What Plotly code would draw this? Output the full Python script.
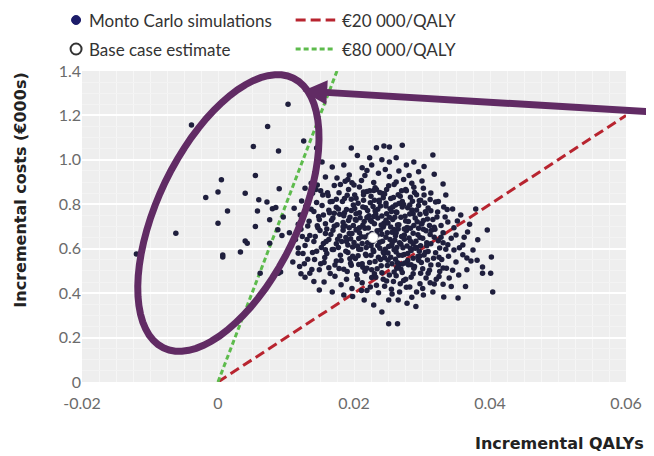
import math
import plotly.graph_objects as go

# ---------------- data ----------------
# Monte Carlo simulations: incremental QALYs (x) and incremental costs in €000s (y)
sparse_left = [(-0.0120, 0.576), (-0.0062, 0.67), (-0.0039, 1.157), (-0.0018, 0.83), (0.0, 0.855),
               (0.0005, 0.91), (0.0014, 0.77), (0.0, 0.715), (0.0007, 0.572), (0.0007, 0.563),
               (0.0033, 0.585), (0.0040, 0.635), (0.0043, 0.625), (0.0040, 0.85), (0.0055, 0.70),
               (0.0055, 0.93), (0.0052, 1.06), (0.0058, 0.77), (0.0060, 0.82), (0.0073, 1.15),
               (0.0089, 1.04), (0.0090, 0.87), (0.0103, 1.25), (0.0126, 1.085), (0.0076, 0.73),
               (0.0072, 0.81), (0.0080, 0.78), (0.0085, 0.785), (0.0076, 0.625), (0.0062, 0.49),
               (0.0089, 0.49), (0.0088, 0.685), (0.0096, 0.743), (0.0094, 0.66)]
band_top = [(0.0145, 1.053), (0.0196, 1.053), (0.0233, 1.055), (0.0244, 1.062), (0.0252, 1.058),
            (0.0271, 1.066), (0.0316, 1.022), (0.0223, 1.009), (0.0226, 0.977), (0.0241, 1.0),
            (0.0252, 0.99), (0.0277, 0.977), (0.0295, 0.946), (0.0153, 0.99), (0.0168, 0.968),
            (0.0185, 0.977), (0.0158, 0.923), (0.0175, 0.918), (0.0193, 0.932), (0.0146, 0.887),
            (0.0200, 0.887), (0.0212, 0.965), (0.0262, 1.01), (0.0288, 0.99), (0.0205, 1.02),
            (0.0303, 0.97), (0.0266, 0.95), (0.0236, 0.94), (0.0216, 0.93), (0.0252, 0.925),
            (0.0281, 0.93), (0.0318, 0.935), (0.0331, 0.891)]
band_080 = [(0.0128, 0.872), (0.0139, 0.85), (0.0151, 0.861), (0.0162, 0.84), (0.0171, 0.885),
            (0.0178, 0.852), (0.0186, 0.826), (0.0192, 0.866), (0.0201, 0.842), (0.0208, 0.878),
            (0.0214, 0.818), (0.0219, 0.857), (0.0225, 0.836), (0.0231, 0.874), (0.0237, 0.81),
            (0.0242, 0.848), (0.0248, 0.867), (0.0254, 0.826), (0.0259, 0.889), (0.0265, 0.843),
            (0.0271, 0.812), (0.0276, 0.866), (0.0283, 0.832), (0.0289, 0.853), (0.0296, 0.816),
            (0.0302, 0.872), (0.0335, 0.842), (0.0313, 0.851), (0.0320, 0.81), (0.0123, 0.815),
            (0.0145, 0.808), (0.0168, 0.812), (0.0197, 0.897), (0.0229, 0.898), (0.0262, 0.90),
            (0.0285, 0.895), (0.0247, 0.805), (0.0206, 0.805), (0.0137, 0.895)]
band_070 = [(0.0112, 0.782), (0.0121, 0.752), (0.0129, 0.79), (0.0134, 0.724), (0.0141, 0.768),
            (0.0148, 0.745), (0.0153, 0.795), (0.0158, 0.712), (0.0163, 0.773), (0.0169, 0.738),
            (0.0174, 0.787), (0.0179, 0.755), (0.0184, 0.718), (0.0189, 0.776), (0.0194, 0.742),
            (0.0199, 0.797), (0.0203, 0.728), (0.0208, 0.762), (0.0213, 0.706), (0.0217, 0.784),
            (0.0222, 0.748), (0.0226, 0.722), (0.0231, 0.771), (0.0235, 0.738), (0.0239, 0.792),
            (0.0244, 0.715), (0.0248, 0.757), (0.0253, 0.78), (0.0257, 0.732), (0.0262, 0.765),
            (0.0266, 0.708), (0.0271, 0.788), (0.0275, 0.746), (0.0280, 0.722), (0.0285, 0.774),
            (0.0290, 0.738), (0.0295, 0.795), (0.0300, 0.714), (0.0306, 0.758), (0.0309, 0.783),
            (0.0316, 0.731), (0.0323, 0.765), (0.0332, 0.788), (0.0345, 0.779), (0.0357, 0.752),
            (0.0379, 0.779), (0.0338, 0.72), (0.0118, 0.71), (0.0146, 0.703), (0.0187, 0.702),
            (0.0228, 0.79), (0.0261, 0.797), (0.0297, 0.755), (0.0328, 0.705), (0.0171, 0.76)]
band_060 = [(0.0105, 0.672), (0.0114, 0.641), (0.0122, 0.688), (0.0128, 0.615), (0.0135, 0.659),
            (0.0141, 0.632), (0.0147, 0.694), (0.0152, 0.606), (0.0158, 0.668), (0.0163, 0.641),
            (0.0169, 0.683), (0.0174, 0.622), (0.0179, 0.657), (0.0184, 0.699), (0.0189, 0.632),
            (0.0193, 0.668), (0.0198, 0.608), (0.0203, 0.684), (0.0207, 0.646), (0.0212, 0.624),
            (0.0216, 0.692), (0.0221, 0.661), (0.0225, 0.613), (0.0234, 0.681), (0.0238, 0.629),
            (0.0243, 0.698), (0.0247, 0.652), (0.0251, 0.61), (0.0256, 0.674), (0.0260, 0.638),
            (0.0265, 0.689), (0.0269, 0.62), (0.0274, 0.662), (0.0278, 0.696), (0.0283, 0.634),
            (0.0287, 0.67), (0.0292, 0.606), (0.0297, 0.651), (0.0302, 0.688), (0.0307, 0.627),
            (0.0312, 0.664), (0.0318, 0.697), (0.0324, 0.636), (0.0331, 0.672), (0.0338, 0.618),
            (0.0350, 0.662), (0.0367, 0.675), (0.0360, 0.617), (0.0396, 0.684), (0.0347, 0.694),
            (0.0118, 0.603), (0.0155, 0.624), (0.0195, 0.645), (0.0231, 0.64), (0.0263, 0.605),
            (0.0295, 0.692), (0.0326, 0.603), (0.0382, 0.64), (0.0208, 0.672), (0.0241, 0.665)]
band_050 = [(0.0110, 0.54), (0.0120, 0.52), (0.0125, 0.578), (0.0132, 0.553), (0.0138, 0.506),
            (0.0145, 0.589), (0.0151, 0.532), (0.0157, 0.561), (0.0163, 0.514), (0.0168, 0.596),
            (0.0174, 0.545), (0.0180, 0.571), (0.0185, 0.508), (0.0191, 0.583), (0.0196, 0.526),
            (0.0202, 0.556), (0.0207, 0.598), (0.0213, 0.517), (0.0218, 0.569), (0.0223, 0.538),
            (0.0229, 0.587), (0.0234, 0.51), (0.0239, 0.552), (0.0244, 0.579), (0.0249, 0.524),
            (0.0254, 0.562), (0.0259, 0.595), (0.0264, 0.537), (0.0269, 0.508), (0.0274, 0.574),
            (0.0279, 0.547), (0.0284, 0.592), (0.0289, 0.52), (0.0294, 0.565), (0.0299, 0.538),
            (0.0305, 0.584), (0.0311, 0.503), (0.0317, 0.557), (0.0324, 0.528), (0.0331, 0.513),
            (0.0347, 0.594), (0.0375, 0.594), (0.0372, 0.545), (0.0350, 0.54), (0.0389, 0.518),
            (0.0402, 0.563), (0.0360, 0.573), (0.0339, 0.566), (0.0092, 0.495), (0.0118, 0.58),
            (0.0158, 0.595), (0.0226, 0.505), (0.0262, 0.585), (0.0301, 0.51), (0.0194, 0.555)]
band_040 = [(0.0122, 0.487), (0.0128, 0.472), (0.0135, 0.49), (0.0149, 0.414), (0.0156, 0.45),
            (0.0168, 0.405), (0.0172, 0.476), (0.0181, 0.438), (0.0189, 0.462), (0.0197, 0.421),
            (0.0204, 0.483), (0.0212, 0.447), (0.0219, 0.412), (0.0226, 0.47), (0.0233, 0.435),
            (0.0241, 0.492), (0.0248, 0.455), (0.0255, 0.418), (0.0262, 0.478), (0.0268, 0.442),
            (0.0276, 0.463), (0.0282, 0.428), (0.0292, 0.405), (0.0267, 0.405), (0.0306, 0.468),
            (0.0316, 0.405), (0.0340, 0.468), (0.0354, 0.482), (0.0331, 0.44), (0.0401, 0.49),
            (0.0389, 0.49), (0.0404, 0.405), (0.0298, 0.49), (0.0236, 0.402), (0.0364, 0.43),
            (0.0258, 0.452), (0.0271, 0.493), (0.0284, 0.471), (0.0297, 0.442), (0.0309, 0.489),
            (0.0321, 0.462), (0.0252, 0.482), (0.0243, 0.462), (0.0277, 0.427), (0.0301, 0.421),
            (0.0318, 0.441), (0.0230, 0.487), (0.0216, 0.498)]
band_low = [(0.0332, 0.383), (0.0353, 0.378), (0.0302, 0.392), (0.0265, 0.369), (0.0251, 0.369),
            (0.0229, 0.347), (0.0215, 0.369), (0.0241, 0.315), (0.0251, 0.262), (0.0264, 0.262),
            (0.0198, 0.385), (0.0278, 0.355), (0.0185, 0.392), (0.0291, 0.34)]
core_dense = [(0.0171, 0.701), (0.0176, 0.643), (0.0183, 0.812), (0.0188, 0.589), (0.0192, 0.727),
              (0.0197, 0.668), (0.0201, 0.781), (0.0205, 0.612), (0.0209, 0.739), (0.0214, 0.855),
              (0.0217, 0.575), (0.0221, 0.693), (0.0224, 0.807), (0.0227, 0.631), (0.0232, 0.756),
              (0.0236, 0.562), (0.0239, 0.684), (0.0243, 0.829), (0.0246, 0.598), (0.0250, 0.716),
              (0.0253, 0.641), (0.0257, 0.788), (0.0261, 0.553), (0.0264, 0.707), (0.0268, 0.836),
              (0.0272, 0.604), (0.0276, 0.725), (0.0279, 0.579), (0.0283, 0.692), (0.0287, 0.757),
              (0.0291, 0.634), (0.0295, 0.548), (0.0299, 0.711), (0.0304, 0.806), (0.0309, 0.587),
              (0.0314, 0.683), (0.0186, 0.762), (0.0195, 0.535), (0.0203, 0.827), (0.0211, 0.654),
              (0.0219, 0.741), (0.0228, 0.594), (0.0233, 0.866), (0.0241, 0.747), (0.0249, 0.672),
              (0.0256, 0.532), (0.0263, 0.763), (0.0270, 0.655), (0.0277, 0.861), (0.0284, 0.528),
              (0.0292, 0.774), (0.0301, 0.647), (0.0308, 0.734), (0.0177, 0.606), (0.0184, 0.683),
              (0.0190, 0.841), (0.0199, 0.705), (0.0206, 0.568), (0.0213, 0.788), (0.0220, 0.627),
              (0.0230, 0.712), (0.0237, 0.818), (0.0245, 0.559), (0.0252, 0.742), (0.0259, 0.687),
              (0.0266, 0.571), (0.0273, 0.799), (0.0281, 0.648), (0.0288, 0.705), (0.0296, 0.589),
              (0.0305, 0.766), (0.0313, 0.622), (0.0167, 0.728), (0.0174, 0.823), (0.0181, 0.547),
              (0.0196, 0.772), (0.0204, 0.686), (0.0212, 0.532), (0.0223, 0.861), (0.0229, 0.745),
              (0.0238, 0.602), (0.0247, 0.792), (0.0255, 0.613), (0.0262, 0.672), (0.0269, 0.742),
              (0.0278, 0.612), (0.0286, 0.814), (0.0294, 0.663), (0.0303, 0.572), (0.0311, 0.705),
              (0.0320, 0.582), (0.0160, 0.578), (0.0165, 0.811), (0.0218, 0.606), (0.0242, 0.634),
              (0.0250, 0.581), (0.0258, 0.831), (0.0274, 0.689), (0.0290, 0.602), (0.0160, 0.689),
              (0.0328, 0.652), (0.0335, 0.598), (0.0322, 0.743), (0.0155, 0.752), (0.0215, 0.722),
              (0.0226, 0.668), (0.0235, 0.778), (0.0244, 0.707), (0.0267, 0.627), (0.0282, 0.756),
              (0.0298, 0.818), (0.0210, 0.598), (0.0275, 0.536), (0.0287, 0.557), (0.0240, 0.523),
              (0.0200, 0.628), (0.0188, 0.651), (0.0231, 0.542), (0.0254, 0.698), (0.0271, 0.571),
              (0.0306, 0.681), (0.0288, 0.512), (0.0313, 0.527), (0.0326, 0.497), (0.0336, 0.512),
              (0.0345, 0.503), (0.0263, 0.512), (0.0280, 0.528)]
core_more = [(0.0132, 0.702), (0.0137, 0.778), (0.0143, 0.655), (0.0149, 0.731), (0.0154, 0.842),
             (0.0159, 0.633), (0.0164, 0.762), (0.0170, 0.597), (0.0175, 0.708), (0.0180, 0.889),
             (0.0185, 0.748), (0.0191, 0.617), (0.0196, 0.823), (0.0202, 0.732), (0.0207, 0.529),
             (0.0211, 0.907), (0.0216, 0.653), (0.0220, 0.772), (0.0225, 0.571), (0.0230, 0.818),
             (0.0234, 0.661), (0.0238, 0.853), (0.0243, 0.585), (0.0247, 0.728), (0.0251, 0.883),
             (0.0256, 0.624), (0.0260, 0.742), (0.0265, 0.521), (0.0270, 0.861), (0.0274, 0.643),
             (0.0279, 0.784), (0.0283, 0.601), (0.0288, 0.877), (0.0293, 0.721), (0.0298, 0.613),
             (0.0303, 0.842), (0.0308, 0.549), (0.0313, 0.771), (0.0318, 0.652), (0.0324, 0.812),
             (0.0329, 0.551), (0.0334, 0.743), (0.0139, 0.583), (0.0144, 0.866), (0.0150, 0.682),
             (0.0156, 0.538), (0.0161, 0.852), (0.0166, 0.664), (0.0172, 0.527), (0.0177, 0.779),
             (0.0182, 0.632), (0.0187, 0.904), (0.0193, 0.694), (0.0198, 0.566), (0.0203, 0.757),
             (0.0208, 0.694), (0.0214, 0.843), (0.0219, 0.512), (0.0224, 0.728), (0.0229, 0.862),
             (0.0235, 0.614), (0.0240, 0.707), (0.0245, 0.846), (0.0250, 0.548), (0.0255, 0.767),
             (0.0261, 0.658), (0.0266, 0.803), (0.0271, 0.531), (0.0277, 0.682), (0.0282, 0.797),
             (0.0287, 0.621), (0.0292, 0.843), (0.0297, 0.567), (0.0302, 0.727), (0.0307, 0.613),
             (0.0312, 0.822), (0.0319, 0.688), (0.0325, 0.562), (0.0331, 0.627), (0.0337, 0.776),
             (0.0343, 0.647), (0.0352, 0.725), (0.0362, 0.652), (0.0370, 0.71), (0.0355, 0.604),
             (0.0366, 0.558), (0.0131, 0.641), (0.0127, 0.532), (0.0142, 0.552), (0.0124, 0.655),
             (0.0219, 0.952), (0.0246, 0.957), (0.0273, 0.912), (0.0191, 0.912), (0.0300, 0.905),
             (0.0232, 0.472), (0.0245, 0.431), (0.0259, 0.495), (0.0273, 0.457), (0.0287, 0.487),
             (0.0205, 0.462), (0.0190, 0.497), (0.0312, 0.447), (0.0325, 0.475), (0.0178, 0.511),
             (0.0165, 0.488), (0.0149, 0.505), (0.0141, 0.452), (0.0224, 0.428), (0.0211, 0.412),
             (0.0256, 0.396), (0.0285, 0.382), (0.0343, 0.43), (0.0366, 0.505), (0.0381, 0.548)]

base_case_qaly = [0.0228]
base_case_cost = [0.65]

thresholds = [20, 80]                       # €000 per QALY
threshold_labels = ["€20 000/QALY", "€80 000/QALY"]
threshold_colors = ["#b8242f", "#5dbb4c"]
threshold_dashes = ["10px,5px", "5px,3px"]

x_tickvals = [-0.02, 0, 0.02, 0.04, 0.06]
x_ticktext = ["-0.02", "0", "0.02", "0.04", "0.06"]
y_tickvals = [0, 0.2, 0.4, 0.6, 0.8, 1.0, 1.2, 1.4]
y_ticktext = ["0", "0.2", "0.4", "0.6", "0.8", "1.0", "1.2", "1.4"]

X_RANGE = [-0.02, 0.06]
Y_RANGE = [0, 1.4]

# ---------------- layout geometry ----------------
# the page body has an 8px margin; positions below are given in page pixels
OFF = 8
W, H = 646, 448
L, T = 82 - OFF, 71 - OFF
R = W - (632 - OFF)
B = H - (382 - OFF)
PW, PH = W - L - R, H - T - B
def pxx(px):
    return (px - OFF - L) / PW
def pxy(py):
    return (H - B - (py - OFF)) / PH

FONT = "Lato, 'Liberation Sans Narrow', 'DejaVu Sans Condensed', sans-serif"
TITLE_FONT = "'DejaVu Sans', 'Open Sans', sans-serif"
PURPLE = "#612b64"
DOT = "#1f1f3d"

all_pts = (sparse_left + band_top + band_080 + band_070 + band_060 + band_050 + band_040
           + band_low + core_dense + core_more)
mc_qaly = [p[0] for p in all_pts]
mc_cost = [p[1] for p in all_pts]

fig = go.Figure()

# threshold lines
for k, c, d in zip(thresholds, threshold_colors, threshold_dashes):
    xe = min(X_RANGE[1], Y_RANGE[1] / k)
    fig.add_trace(go.Scatter(x=[0, xe], y=[0, k * xe], mode="lines",
                             line=dict(color=c, width=3, dash=d), hoverinfo="skip"))

fig.add_trace(go.Scatter(x=mc_qaly, y=mc_cost, mode="markers",
                         marker=dict(size=5.5, color=DOT), hoverinfo="skip"))
fig.add_trace(go.Scatter(x=base_case_qaly, y=base_case_cost, mode="markers",
                         marker=dict(size=10, color="white", line=dict(color="#cfcfcf", width=1))))

shapes = []
annotations = []

# purple ellipse highlight
cx, cy, a, b, th = 230, 213, 150, 71, math.radians(26)
pts = []
for i in range(73):
    t = 2 * math.pi * i / 72
    u, v = b * math.cos(t), a * math.sin(t)
    px = cx + u * math.cos(th) + v * math.sin(th)
    py = cy + u * math.sin(th) - v * math.cos(th)
    pts.append((pxx(px), pxy(py)))
path = "M " + " L ".join(f"{x:.5f},{y:.5f}" for x, y in pts) + " Z"
shapes.append(dict(type="path", xref="paper", yref="paper", path=path,
                   line=dict(color=PURPLE, width=7), layer="above"))

# purple arrow
annotations.append(dict(xref="paper", yref="paper", x=pxx(305), y=pxy(91), text="",
                        showarrow=True, ax=352, ay=21, arrowcolor=PURPLE, arrowwidth=7,
                        arrowhead=2, arrowsize=0.7, standoff=0))

# legend (drawn manually)
legend_rows = [20, 49]
shapes.append(dict(type="circle", xref="paper", yref="paper", xsizemode="pixel", ysizemode="pixel",
                   xanchor=pxx(76), yanchor=pxy(legend_rows[0]), x0=-4.5, x1=4.5, y0=-4.5, y1=4.5,
                   fillcolor="#1c1c6a", line=dict(color="#1c1c6a", width=1)))
shapes.append(dict(type="circle", xref="paper", yref="paper", xsizemode="pixel", ysizemode="pixel",
                   xanchor=pxx(76), yanchor=pxy(legend_rows[1]), x0=-5.5, x1=5.5, y0=-5.5, y1=5.5,
                   fillcolor="white", line=dict(color="#333333", width=2)))
for txt, row in zip(["Monto Carlo simulations", "Base case estimate"], legend_rows):
    annotations.append(dict(xref="paper", yref="paper", x=pxx(87), y=pxy(row), text=txt,
                            showarrow=False, xanchor="left", yanchor="middle",
                            font=dict(family=FONT, size=17, color="#333333")))
for lab, c, d, row in zip(threshold_labels, threshold_colors, threshold_dashes, legend_rows):
    shapes.append(dict(type="line", xref="paper", yref="paper", x0=pxx(298), x1=pxx(338),
                       y0=pxy(row), y1=pxy(row), line=dict(color=c, width=3, dash=d)))
    annotations.append(dict(xref="paper", yref="paper", x=pxx(343), y=pxy(row), text=lab,
                            showarrow=False, xanchor="left", yanchor="middle",
                            font=dict(family=FONT, size=17, color="#333333")))

# axis titles
annotations.append(dict(xref="paper", yref="paper", x=pxx(19), y=pxy(190),
                        text="<b>Incremental costs (€000s)</b>", textangle=-90, showarrow=False,
                        xanchor="center", yanchor="middle",
                        font=dict(family=TITLE_FONT, size=16, color="#222222")))
annotations.append(dict(xref="paper", yref="paper", x=pxx(652), y=pxy(443),
                        text="<b>Incremental QALYs</b>", showarrow=False,
                        xanchor="right", yanchor="middle",
                        font=dict(family=TITLE_FONT, size=16, color="#222222")))

fig.update_layout(
    width=W, height=H, margin=dict(l=L, r=R, t=T, b=B),
    paper_bgcolor="white", plot_bgcolor="#eeeeee",
    showlegend=False, shapes=shapes, annotations=annotations,
    font=dict(family=FONT, size=16, color="#6b6b6b"),
    xaxis=dict(range=X_RANGE, tickvals=x_tickvals, ticktext=x_ticktext, showgrid=False,
               zeroline=False, showline=False, ticks="", ticklabelstandoff=10,
               minor=dict(dtick=0.0025, showgrid=True, gridcolor="#f6f6f6", gridwidth=1),
               tickfont=dict(family=FONT, size=16, color="#6b6b6b")),
    yaxis=dict(range=Y_RANGE, tickvals=y_tickvals, ticktext=y_ticktext, showgrid=True,
               gridcolor="white", gridwidth=2, zeroline=False, showline=False, ticks="",
               minor=dict(dtick=0.05, showgrid=True, gridcolor="#f3f3f3", gridwidth=1),
               tickfont=dict(family=FONT, size=16, color="#6b6b6b")),
)

fig.write_html("out.html")
